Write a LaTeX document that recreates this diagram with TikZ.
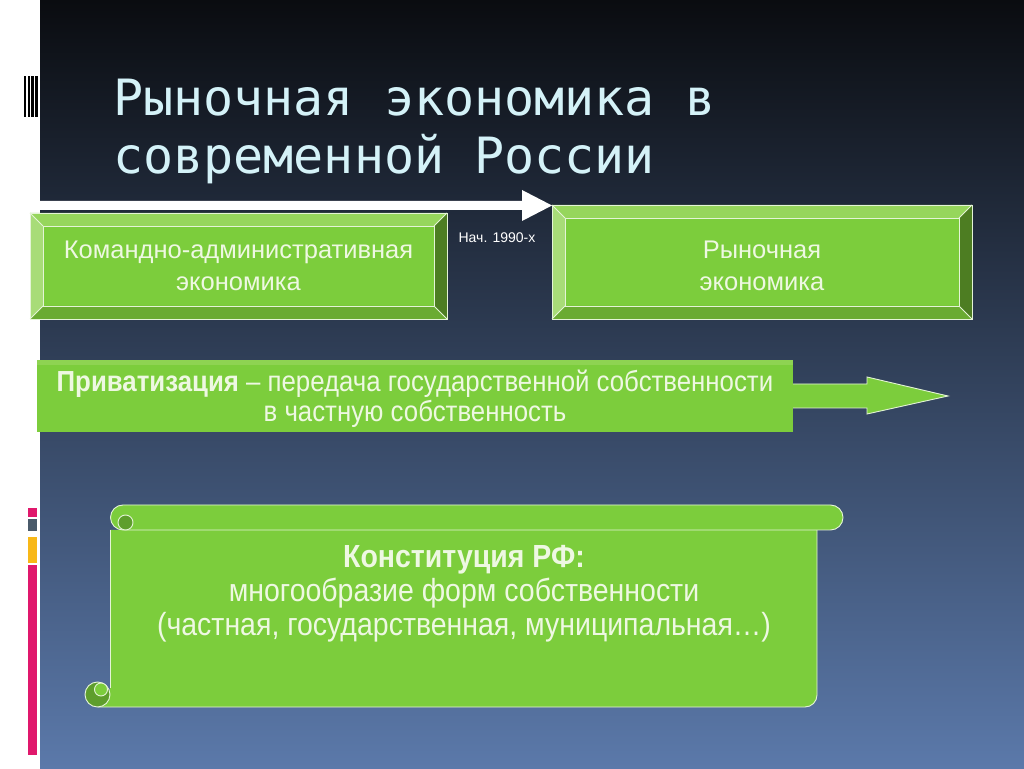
\documentclass[tikz,border=0pt]{standalone}
\usepackage{fontspec}
\setmainfont{Liberation Sans}
\newfontfamily\titlefont{DejaVu Sans Mono}
\newfontfamily\narrowfont{Liberation Sans}[FakeStretch=0.89]
\usetikzlibrary{calc}
\definecolor{bgtop}{HTML}{0A0C10}
\definecolor{bgmid}{HTML}{27354F}
\definecolor{bgbot}{HTML}{5B79AA}
\definecolor{face}{HTML}{7CCD3C}
\definecolor{bvtop}{HTML}{96D65C}
\definecolor{bvleft}{HTML}{A8DC78}
\definecolor{bvbot}{HTML}{6AAB32}
\definecolor{bvright}{HTML}{4D7D22}
\definecolor{edgec}{HTML}{E4F4D6}
\definecolor{txtc}{HTML}{EEF8E2}
\definecolor{titlec}{HTML}{D4F2F8}
\definecolor{curldark}{HTML}{5E9E2C}
\definecolor{mpink}{HTML}{E0186C}
\definecolor{mgray}{HTML}{4A5A6A}
\definecolor{myellow}{HTML}{F8B818}
\tikzset{
  edge/.style={draw=edgec, line width=0.9pt},
  boxtext/.style={align=center, text=txtc, font=\fontsize{25.5}{32}\selectfont, inner sep=0pt},
  titletext/.style={anchor=base west, text=titlec, font=\titlefont\fontsize{50}{58}\selectfont, inner sep=0pt},
}
\newcommand{\bevelbox}[6]{%
  \fill[face] (#2+13,#3+13) rectangle (#4-13,#5-13);
  \fill[bvtop] (#2,#5) -- (#4,#5) -- (#4-13,#5-13) -- (#2+13,#5-13) -- cycle;
  \fill[bvleft] (#2,#5) -- (#2+13,#5-13) -- (#2+13,#3+13) -- (#2,#3) -- cycle;
  \fill[bvbot] (#2,#3) -- (#2+13,#3+13) -- (#4-13,#3+13) -- (#4,#3) -- cycle;
  \fill[bvright] (#4,#5) -- (#4,#3) -- (#4-13,#3+13) -- (#4-13,#5-13) -- cycle;
  \draw[edge] (#2,#3) rectangle (#4,#5);
  \draw[edge] (#2+13,#3+13) rectangle (#4-13,#5-13);
  \draw[edge] (#2,#3) -- (#2+13,#3+13) (#2,#5) -- (#2+13,#5-13)
              (#4,#3) -- (#4-13,#3+13) (#4,#5) -- (#4-13,#5-13);
  \coordinate (#1corner) at (#2,#5);
  \node[boxtext] (#1) at ({(#2+#4)/2},{#3+53}) {#6};
}
\begin{document}
\begin{tikzpicture}[x=1pt,y=1pt]
\useasboundingbox (0,0) rectangle (1024,768);
\fill[white] (0,0) rectangle (40,768);
\shade[top color=bgtop, middle color=bgmid, bottom color=bgbot] (40,0) rectangle (1024,768);
% barcode
\fill[black] (24,651) rectangle (25.5,692);
\fill[black] (27.5,651) rectangle (29.5,692);
\fill[black] (31,651) rectangle (33.5,692);
\fill[black] (35,651) rectangle (37.5,692);
% colour marks
\fill[mpink] (28,251) rectangle (37,260);
\fill[mgray] (28,237) rectangle (37,249);
\fill[myellow] (28,205) rectangle (37,231);
\fill[mpink] (28,13) rectangle (37,203);
% title
\node[titletext] (title1) at (113,652) {Рыночная экономика в};
\node[titletext] (title2) at (113,594) {современной России};
% boxes
\bevelbox{cmd}{30}{449}{447}{555}{Командно-административная\\экономика}
\bevelbox{mkt}{552}{449}{972}{563}{Рыночная\\экономика}
% top arrow
\coordinate (arrstart) at (40,558);
\fill[white] (arrstart) -- (522,558) -- (522,547) -- ($(mktcorner)+(0,-0.5)$) -- (522,578) -- (522,567) -- (40,567) -- cycle;
\node[text=white, font=\fontsize{14}{16}\selectfont, inner sep=0pt] (lbl) at (497,530) {Нач. 1990-х};
% privatization
\fill[face] (37,336) rectangle (793,408);
\fill[bvtop!70!face] (37,403) rectangle (793,408);
\fill[face] (792,360) -- (867,360) -- (867,354) -- (948,372) -- (867,391) -- (867,384) -- (792,384) -- cycle;
\draw[edge] (793,360) -- (867,360) -- (867,354) -- (948,372) -- (867,391) -- (867,384) -- (793,384);
\node[align=center, text=txtc, inner sep=0pt, font=\narrowfont\fontsize{29}{30}\selectfont] (priv) at (415,369)
  {\textbf{Приватизация} – передача государственной собственности\\в частную собственность};
% scroll
\fill[face] (97.5,61) -- (805,61) arc[start angle=-90, end angle=0, radius=12] -- (817,238) -- (110,238) -- (110,73.5) -- cycle;
\draw[edge] (110,238) -- (110,80);
\draw[edge] (97.5,61) -- (805,61) arc[start angle=-90, end angle=0, radius=12] -- (817,238);
\filldraw[fill=face, edge] (123,238) -- (830.5,238) arc[start angle=-90, end angle=90, radius=12.5] -- (123,263) arc[start angle=90, end angle=270, radius=12.5] -- cycle;
\filldraw[fill=curldark, edge] (125.5,245.5) circle (7.5);
\filldraw[fill=curldark, edge] (97.5,73.5) circle (12.5);
\filldraw[fill=face, edge] (101,78.5) circle (6.5);
\node[align=center, text=txtc, inner sep=0pt, font=\narrowfont\fontsize{32}{34}\selectfont] (const) at (464,174)
  {\textbf{Конституция РФ:}\\многообразие форм собственности\\(частная, государственная, муниципальная…)};
\end{tikzpicture}
\end{document}
